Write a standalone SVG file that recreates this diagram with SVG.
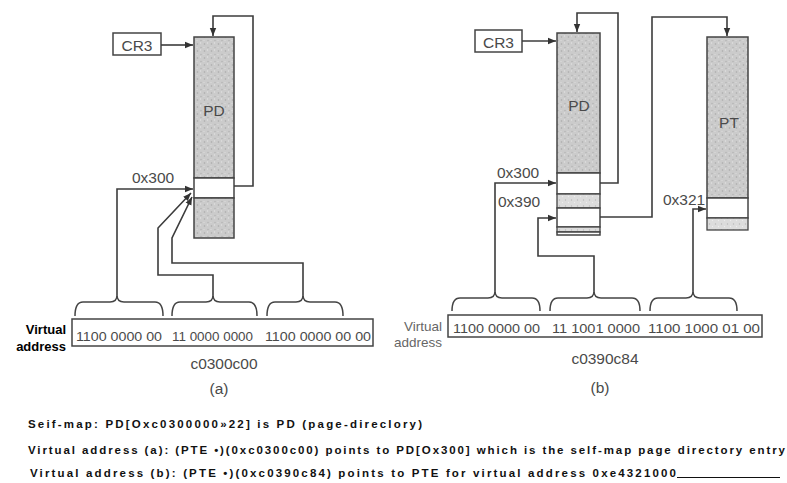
<svg xmlns="http://www.w3.org/2000/svg" width="787" height="483" viewBox="0 0 787 483">
<defs>
<pattern id="stip" width="7" height="7" patternUnits="userSpaceOnUse">
<rect width="7" height="7" fill="#cbcbcb"/>
<circle cx="1.5" cy="2" r="0.8" fill="#a9a9a9"/>
<circle cx="5" cy="5.5" r="0.7" fill="#b0b0b0"/>
<circle cx="4.5" cy="1" r="0.7" fill="#e2e2e2"/>
<circle cx="1" cy="5.5" r="0.6" fill="#e0e0e0"/>
</pattern>
<pattern id="stip2" width="6" height="6" patternUnits="userSpaceOnUse">
<rect width="6" height="6" fill="#dcdcdc"/>
<circle cx="1.5" cy="2" r="0.7" fill="#b8b8b8"/>
<circle cx="4.5" cy="4.5" r="0.7" fill="#ededed"/>
</pattern>
<marker id="arr" viewBox="0 0 10 10" refX="10" refY="5" markerWidth="8" markerHeight="8" markerUnits="userSpaceOnUse" orient="auto">
<path d="M0,1 L10,5 L0,9 z" fill="#333"/>
</marker>
</defs>
<style>
.ln{fill:none;stroke:#3c3c3c;stroke-width:1.6}
.br{fill:none;stroke:#444;stroke-width:1.5}
.box{fill:#fff;stroke:#444;stroke-width:1.5}
.sh{fill:url(#stip);stroke:#444;stroke-width:1.5}
.sh2{fill:url(#stip2);stroke:#444;stroke-width:1.3}
.wh{fill:#fff;stroke:#444;stroke-width:1.5}
.lbl{font-family:"Liberation Sans",Arial,sans-serif;fill:#4a4a4a;font-size:15.5px}
.addr{font-family:"Liberation Sans",Arial,sans-serif;fill:#4a4a4a;font-size:12px}
.va{font-family:"Liberation Sans",Arial,sans-serif;fill:#000;font-size:13px;font-weight:bold}
.vb{font-family:"Liberation Sans",Arial,sans-serif;fill:#666;font-size:13.5px}
.cap{font-family:"Liberation Sans",Arial,sans-serif;fill:#111;font-size:11.5px;font-weight:bold}
</style>

<!-- Diagram (a) -->
<g id="cr3-a">
<rect class="box" x="113" y="33" width="48" height="22"/>
<text class="lbl" x="137" y="50.5" text-anchor="middle" font-size="16.5">CR3</text>
</g>
<g id="pd-a">
<rect class="sh" x="194" y="37" width="40" height="141"/>
<rect class="wh" x="194" y="178" width="40" height="20"/>
<rect class="sh" x="194" y="198" width="40" height="40"/>
<text class="lbl" x="214" y="116" text-anchor="middle" font-size="16">PD</text>
<text class="lbl" x="132" y="183">0x300</text>
</g>
<g id="vaddr-a">
<rect class="box" x="72" y="319" width="301" height="27"/>
<text class="addr" x="76" y="341" textLength="86" lengthAdjust="spacingAndGlyphs">1100 0000 00</text>
<text class="addr" x="172" y="341" textLength="81" lengthAdjust="spacingAndGlyphs">11 0000 0000</text>
<text class="addr" x="265" y="341" textLength="106" lengthAdjust="spacingAndGlyphs">1100 0000 00 00</text>
<text class="va" x="66" y="334" text-anchor="end">Virtual</text>
<text class="va" x="66" y="351" text-anchor="end">address</text>
<text class="lbl" x="224" y="369" text-anchor="middle" font-size="16.5">c0300c00</text>
<text class="lbl" x="219" y="394" text-anchor="middle" font-size="15">(a)</text>
</g>
<g id="braces-a">
<path class="br" d="M75,316 Q75,302 83,302 L110,302 Q117,302 117,295 Q117,302 124,302 L155,302 Q163,302 163,316"/>
<path class="br" d="M172,316 Q172,302 180,302 L206,302 Q213,302 213,295 Q213,302 220,302 L249,302 Q257,302 257,316"/>
<path class="br" d="M267,316 Q267,302 275,302 L296,302 Q303,302 303,295 Q303,302 310,302 L335,302 Q343,302 343,316"/>
</g>

<!-- Diagram (b) -->
<g id="cr3-b">
<rect class="box" x="475" y="30" width="47" height="22"/>
<text class="lbl" x="498.5" y="47.5" text-anchor="middle" font-size="16.5">CR3</text>
</g>
<g id="pd-b">
<rect class="sh" x="557" y="33" width="43" height="140"/>
<rect class="wh" x="557" y="173" width="43" height="21"/>
<rect class="sh2" x="557" y="194" width="43" height="14"/>
<rect class="wh" x="557" y="208" width="43" height="19"/>
<rect class="sh2" x="557" y="227" width="43" height="5"/>
<rect class="wh" x="557" y="232" width="43" height="3"/>
<text class="lbl" x="579" y="111" text-anchor="middle" font-size="16.5">PD</text>
<text class="lbl" x="497" y="178" font-size="16">0x300</text>
<text class="lbl" x="498" y="207" font-size="16">0x390</text>
</g>
<g id="pt-b">
<rect class="sh" x="707" y="37" width="41" height="161"/>
<rect class="wh" x="707" y="198" width="41" height="20"/>
<rect class="sh2" x="707" y="218" width="41" height="12"/>
<text class="lbl" x="729" y="128" text-anchor="middle" font-size="17">PT</text>
<text class="lbl" x="663" y="205">0x321</text>
</g>
<g id="vaddr-b">
<rect class="box" x="448" y="315" width="314" height="22"/>
<text class="addr" x="453" y="333" textLength="87" lengthAdjust="spacingAndGlyphs">1100 0000 00</text>
<text class="addr" x="552" y="333" textLength="88" lengthAdjust="spacingAndGlyphs">11 1001 0000</text>
<text class="addr" x="648" y="333" textLength="112" lengthAdjust="spacingAndGlyphs">1100 1000 01 00</text>
<text class="vb" x="442" y="331" text-anchor="end">Virtual</text>
<text class="vb" x="442" y="347" text-anchor="end">address</text>
<text class="lbl" x="605" y="364" text-anchor="middle" font-size="16.5">c0390c84</text>
<text class="lbl" x="600" y="393" text-anchor="middle" font-size="15">(b)</text>
</g>
<g id="braces-b">
<path class="br" d="M452,311 Q452,298 460,298 L488,298 Q495,298 495,291 Q495,298 502,298 L532,298 Q540,298 540,311"/>
<path class="br" d="M550,311 Q550,298 558,298 L587,298 Q594,298 594,291 Q594,298 601,298 L632,298 Q640,298 640,311"/>
<path class="br" d="M650,311 Q650,298 658,298 L686,298 Q693,298 693,291 Q693,298 700,298 L729,298 Q737,298 737,311"/>
</g>

<g id="connectors">
<path class="ln" d="M161,45 H193" marker-end="url(#arr)"/>
<path class="ln" d="M234,186 H253 V16 H213 V36" marker-end="url(#arr)"/>
<path class="ln" d="M117,295 V189 H193" marker-end="url(#arr)"/>
<path class="ln" d="M213,295 V275 H158 V228 L191,193" marker-end="url(#arr)"/>
<path class="ln" d="M303,295 V263 H172 V238 L192,197" marker-end="url(#arr)"/>
<path class="ln" d="M522,41 H556" marker-end="url(#arr)"/>
<path class="ln" d="M600,183 H618 V13 H577 V32" marker-end="url(#arr)"/>
<path class="ln" d="M600,217 H652 V17 H727 V36" marker-end="url(#arr)"/>
<path class="ln" d="M495,291 V183 H556" marker-end="url(#arr)"/>
<path class="ln" d="M594,291 V256 H538 V218 H556" marker-end="url(#arr)"/>
<path class="ln" d="M693,291 V209 H706" marker-end="url(#arr)"/>
</g>

<g id="caption">
<text class="cap" x="28" y="428" textLength="394" lengthAdjust="spacing">Seif-map: PD[Oxc0300000»22] is PD (page-direclory)</text>
<text class="cap" x="28" y="454" textLength="757" lengthAdjust="spacing">Virtual address (a): (PTE •)(0xc0300c00) points to PD[Ox300] which is the self-map page directory entry</text>
<text class="cap" x="30" y="477" textLength="646" lengthAdjust="spacing">Virtual address (b): (PTE •)(0xc0390c84) points to PTE for virtual address 0xe4321000</text>
<line x1="677" y1="477.5" x2="780" y2="477.5" stroke="#111" stroke-width="1"/>
</g>
</svg>
